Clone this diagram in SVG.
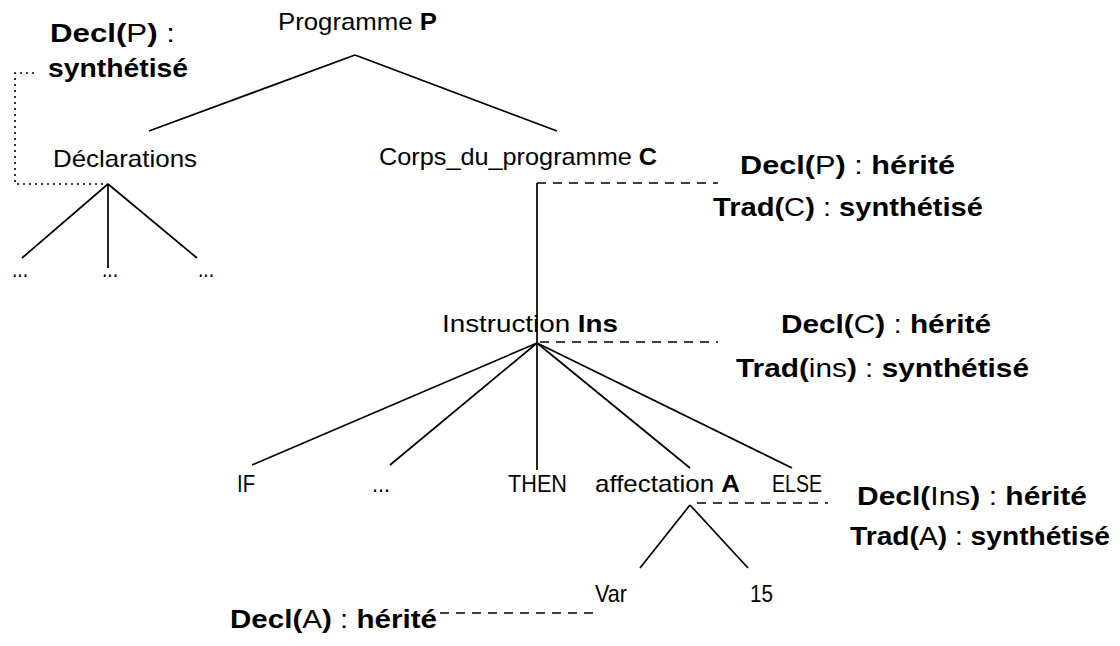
<svg xmlns="http://www.w3.org/2000/svg" width="1120" height="646" viewBox="0 0 1120 646">
<style>
text{font-family:"Liberation Sans","DejaVu Sans",sans-serif;font-size:24px;fill:#000}
.lbl{font-size:25px}
.b{font-weight:bold}
.edge{stroke:#000;stroke-width:1.7;fill:none}
.dash{stroke:#000;stroke-width:1.7;fill:none;stroke-dasharray:9 7}
.dot{stroke:#000;stroke-width:1.6;fill:none;stroke-dasharray:2 4}
</style>
<rect width="1120" height="646" fill="#fff"/>
<g id="connectors">
<line class="edge" x1="355" y1="55" x2="149" y2="131"/>
<line class="edge" x1="355" y1="55" x2="557" y2="131"/>
<line class="edge" x1="108" y1="184" x2="22" y2="258"/>
<line class="edge" x1="108" y1="184" x2="108" y2="268"/>
<line class="edge" x1="108" y1="184" x2="197" y2="258"/>
<line class="edge" x1="537" y1="183" x2="537" y2="343"/>
<line class="edge" x1="537" y1="343" x2="252" y2="465"/>
<line class="edge" x1="537" y1="343" x2="390" y2="465"/>
<line class="edge" x1="537" y1="343" x2="537" y2="470"/>
<line class="edge" x1="537" y1="343" x2="690" y2="468"/>
<line class="edge" x1="537" y1="343" x2="792" y2="468"/>
<line class="edge" x1="690" y1="505" x2="640" y2="568"/>
<line class="edge" x1="690" y1="505" x2="748" y2="568"/>
<polyline class="dot" points="34,73 15,73 15,184 108,184"/>
<line class="dash" x1="537" y1="183" x2="718" y2="183"/>
<line class="dash" x1="540" y1="342" x2="718" y2="342"/>
<line class="dash" x1="697" y1="503" x2="828" y2="503"/>
<line class="dash" x1="440" y1="613" x2="598" y2="613"/>
</g>
<g id="programme"><text x="278" y="30" textLength="159" lengthAdjust="spacingAndGlyphs">Programme <tspan class="b">P</tspan></text></g>
<g id="declP-synth"><text class="lbl" x="50" y="42" textLength="125" lengthAdjust="spacingAndGlyphs"><tspan class="b">Decl(</tspan>P<tspan class="b">)</tspan> :</text>
<text class="lbl b" x="48" y="77" textLength="140" lengthAdjust="spacingAndGlyphs">synthétisé</text></g>
<g id="declarations"><text x="53" y="167" textLength="144" lengthAdjust="spacingAndGlyphs">Déclarations</text>
<text x="12" y="277" textLength="16" lengthAdjust="spacingAndGlyphs">...</text><text x="102" y="277" textLength="16" lengthAdjust="spacingAndGlyphs">...</text><text x="198" y="277" textLength="16" lengthAdjust="spacingAndGlyphs">...</text></g>
<g id="corps"><text x="379" y="165" textLength="278" lengthAdjust="spacingAndGlyphs">Corps_du_programme <tspan class="b">C</tspan></text></g>
<g id="attr-corps"><text class="lbl" x="740" y="174" textLength="215" lengthAdjust="spacingAndGlyphs"><tspan class="b">Decl(</tspan>P<tspan class="b">)</tspan> : <tspan class="b">hérité</tspan></text>
<text class="lbl" x="713" y="216" textLength="270" lengthAdjust="spacingAndGlyphs"><tspan class="b">Trad(</tspan>C<tspan class="b">)</tspan> : <tspan class="b">synthétisé</tspan></text></g>
<g id="instruction"><text x="442" y="332" textLength="176" lengthAdjust="spacingAndGlyphs">Instruction <tspan class="b">Ins</tspan></text></g>
<g id="attr-ins"><text class="lbl" x="781" y="333" textLength="210" lengthAdjust="spacingAndGlyphs"><tspan class="b">Decl(</tspan>C<tspan class="b">)</tspan> : <tspan class="b">hérité</tspan></text>
<text class="lbl" x="736" y="377" textLength="293" lengthAdjust="spacingAndGlyphs"><tspan class="b">Trad(</tspan>ins<tspan class="b">)</tspan> : <tspan class="b">synthétisé</tspan></text></g>
<g id="if"><text x="237" y="492" textLength="18" lengthAdjust="spacingAndGlyphs">IF</text></g>
<g id="dots"><text x="372" y="492" textLength="18" lengthAdjust="spacingAndGlyphs">...</text></g>
<g id="then"><text x="508" y="492" textLength="59" lengthAdjust="spacingAndGlyphs">THEN</text></g>
<g id="affectation"><text x="595" y="492" textLength="145" lengthAdjust="spacingAndGlyphs">affectation <tspan class="b">A</tspan></text></g>
<g id="else"><text x="772" y="492" textLength="50" lengthAdjust="spacingAndGlyphs">ELSE</text></g>
<g id="attr-aff"><text class="lbl" x="857" y="505" textLength="230" lengthAdjust="spacingAndGlyphs"><tspan class="b">Decl(</tspan>Ins<tspan class="b">)</tspan> : <tspan class="b">hérité</tspan></text>
<text class="lbl" x="850" y="545" textLength="260" lengthAdjust="spacingAndGlyphs"><tspan class="b">Trad(</tspan>A<tspan class="b">)</tspan> : <tspan class="b">synthétisé</tspan></text></g>
<g id="var"><text x="595" y="602" textLength="32" lengthAdjust="spacingAndGlyphs">Var</text></g>
<g id="n15"><text x="750" y="602" textLength="23" lengthAdjust="spacingAndGlyphs">15</text></g>
<g id="declA"><text class="lbl" x="230" y="628" textLength="207" lengthAdjust="spacingAndGlyphs"><tspan class="b">Decl(</tspan>A<tspan class="b">)</tspan> : <tspan class="b">hérité</tspan></text></g>
</svg>
